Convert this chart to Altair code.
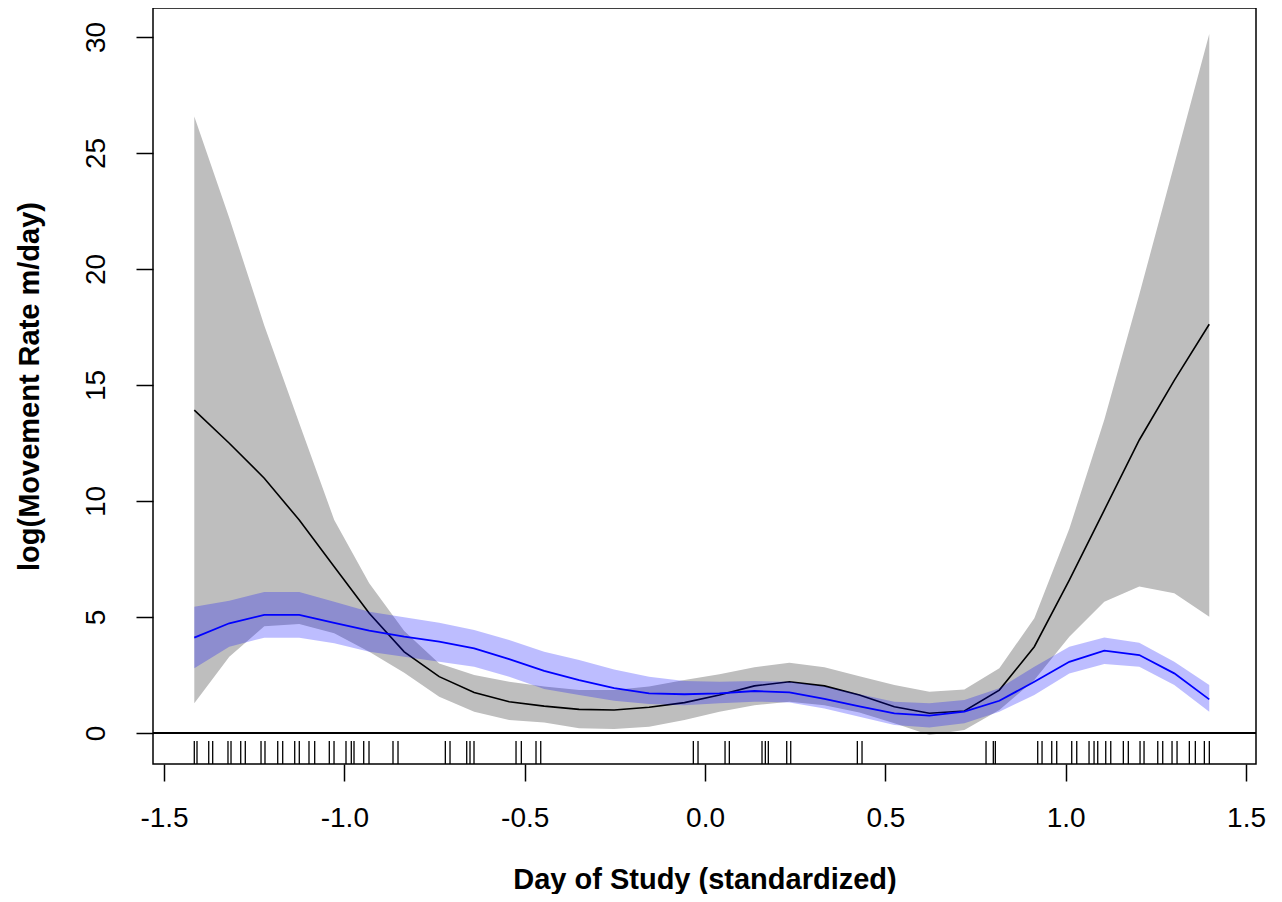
import altair as alt
import pandas as pd

# x grid of the fitted curves (standardized day)
day = [-1.416, -1.319, -1.222, -1.125, -1.028, -0.931, -0.834, -0.737, -0.640, -0.543,
       -0.446, -0.349, -0.252, -0.155, -0.057, 0.040, 0.137, 0.234, 0.331, 0.428,
       0.525, 0.622, 0.719, 0.816, 0.913, 1.010, 1.107, 1.204, 1.301, 1.398]

# black model: mean and interval (gray)
black_mean = [13.92, 12.49, 10.98, 9.18, 7.17, 5.16, 3.50, 2.43, 1.75, 1.35,
              1.16, 1.02, 0.99, 1.11, 1.31, 1.64, 2.03, 2.21, 2.03, 1.64,
              1.13, 0.85, 0.95, 1.85, 3.72, 6.59, 9.61, 12.63, 15.20, 17.62]
gray_lo = [1.28, 3.29, 4.60, 4.70, 4.30, 3.50, 2.60, 1.56, 0.92, 0.56,
           0.45, 0.20, 0.17, 0.27, 0.56, 0.92, 1.20, 1.35, 1.20, 0.88,
           0.42, -0.09, 0.13, 0.99, 2.28, 4.15, 5.66, 6.31, 6.02, 5.01]
gray_hi = [26.57, 22.20, 17.57, 13.35, 9.18, 6.45, 4.40, 3.00, 2.50, 2.21,
           2.00, 1.85, 1.85, 2.00, 2.28, 2.53, 2.83, 3.03, 2.83, 2.45,
           2.07, 1.78, 1.88, 2.79, 4.95, 8.80, 13.50, 18.90, 24.50, 30.13]

# blue model: mean and interval
blue_mean = [4.11, 4.73, 5.09, 5.09, 4.75, 4.41, 4.15, 3.94, 3.65, 3.18,
             2.68, 2.28, 1.93, 1.71, 1.67, 1.71, 1.81, 1.75, 1.47, 1.15,
             0.85, 0.75, 0.92, 1.39, 2.21, 3.07, 3.55, 3.36, 2.57, 1.45]
blue_lo = [2.79, 3.72, 4.11, 4.11, 3.87, 3.50, 3.29, 3.07, 2.86, 2.43,
           1.90, 1.64, 1.39, 1.25, 1.20, 1.28, 1.35, 1.32, 1.06, 0.70,
           0.34, 0.24, 0.42, 0.92, 1.64, 2.57, 2.97, 2.86, 2.07, 0.92]
blue_hi = [5.44, 5.70, 6.08, 6.08, 5.66, 5.23, 4.99, 4.75, 4.44, 4.01,
           3.50, 3.15, 2.74, 2.43, 2.24, 2.21, 2.24, 2.21, 2.00, 1.67,
           1.35, 1.28, 1.42, 1.93, 2.86, 3.72, 4.12, 3.89, 3.07, 2.07]

# rug of observed days
rug_x = [-1.416, -1.4085, -1.376, -1.365, -1.3226, -1.3142, -1.2873, -1.2746,
         -1.231, -1.220, -1.1847, -1.1709, -1.1376, -1.1249, -1.098, -1.0822,
         -1.0417, -1.0286, -0.9954, -0.9807, -0.9732, -0.9463, -0.9316,
         -0.8651, -0.8512, -0.7200, -0.7070, -0.6607, -0.6516, -0.6405,
         -0.5240, -0.5093, -0.4686, -0.4555, -0.0324, -0.0194, 0.0555, 0.0674,
         0.158, 0.1672, 0.1755, 0.2265, 0.2376, 0.4223, 0.4353,
         0.7791, 0.7993, 0.8049, 0.9224, 0.9344, 0.9613, 0.9751, 1.0167, 1.0306,
         1.0647, 1.0786, 1.0888, 1.1110, 1.1249, 1.1598, 1.1736, 1.2061, 1.2172,
         1.2552, 1.2690, 1.2948, 1.3087, 1.3428, 1.3594, 1.3844, 1.3982]

x_ticks = [-1.5, -1.0, -0.5, 0.0, 0.5, 1.0, 1.5]
y_ticks = [0, 5, 10, 15, 20, 25, 30]

df = pd.DataFrame({"day": day, "bm": black_mean, "glo": gray_lo, "ghi": gray_hi,
                   "um": blue_mean, "ulo": blue_lo, "uhi": blue_hi})
rug = pd.DataFrame({"x": rug_x})

FONT = "Liberation Sans"
W, H = 1103, 756
xs = alt.Scale(domain=[-1.5305, 1.5276], nice=False, zero=False)
ys = alt.Scale(domain=[-1.336, 31.25], nice=False, zero=False)

xaxis = alt.Axis(values=x_ticks,
                 labelExpr="datum.value < 0 ? '-' + format(-datum.value, '.1f') : format(datum.value, '.1f')",
                 tickSize=17, tickWidth=1.5, tickColor="black", domain=False, grid=False,
                 labelFont=FONT, labelFontSize=28, labelColor="black", labelPadding=23,
                 labelFlush=False,
                 title="Day of Study (standardized)", titleFont=FONT, titleFontSize=29,
                 titleFontWeight="bold", titleColor="black", titlePadding=33)
yaxis = alt.Axis(values=y_ticks, format="d",
                 tickSize=17, tickWidth=1.5, tickColor="black", domain=False, grid=False,
                 labelFont=FONT, labelFontSize=28, labelColor="black", labelPadding=26,
                 labelAngle=270, labelAlign="center", labelBaseline="bottom", labelFlush=False,
                 title="log(Movement Rate m/day)", titleFont=FONT, titleFontSize=29,
                 titleFontWeight="bold", titleColor="black", titlePadding=38)

base = alt.Chart(df)
gray_band = base.mark_area(color="#BEBEBE", opacity=1).encode(
    x=alt.X("day:Q", scale=xs, axis=xaxis),
    y=alt.Y("glo:Q", scale=ys, axis=yaxis),
    y2="ghi:Q")
black_line = base.mark_line(color="black", strokeWidth=1.6).encode(
    x=alt.X("day:Q", scale=xs), y=alt.Y("bm:Q", scale=ys))
blue_band = base.mark_area(color="#0000FF", opacity=0.26).encode(
    x=alt.X("day:Q", scale=xs), y=alt.Y("ulo:Q", scale=ys), y2="uhi:Q")
blue_line = base.mark_line(color="#0000FF", strokeWidth=1.8).encode(
    x=alt.X("day:Q", scale=xs), y=alt.Y("um:Q", scale=ys))
zero_line = alt.Chart(df).mark_rule(color="black", strokeWidth=1.5).encode(
    y=alt.datum(0))
rug_marks = alt.Chart(rug).mark_rule(color="black", strokeWidth=1.3).encode(
    x=alt.X("x:Q", scale=xs), y=alt.value(H), y2=alt.value(H - 23))

chart = alt.layer(gray_band, black_line, blue_band, blue_line, zero_line, rug_marks).properties(
    width=W, height=H,
    autosize=alt.AutoSizeParams(type="none"),
    padding={"left": 145, "top": 0, "right": 10, "bottom": 130},
    background="white",
).configure_view(stroke="black", strokeWidth=1.5)

chart.save("out.html", embed_options={"renderer": "svg", "actions": False})
